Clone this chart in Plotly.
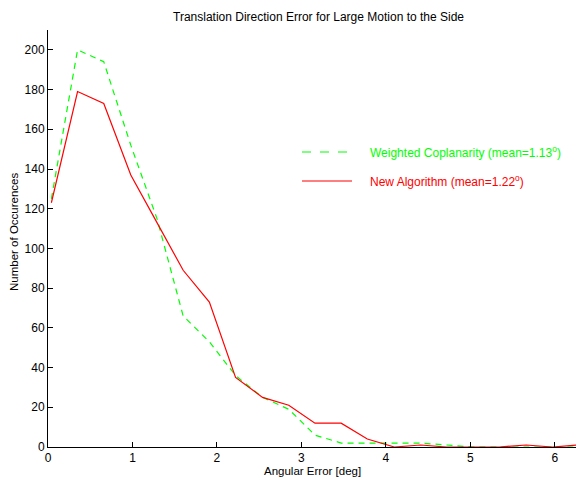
import plotly.graph_objects as go

angle_deg = [0.04, 0.35, 0.66, 0.98, 1.29, 1.60, 1.91, 2.22, 2.54, 2.85, 3.16,
             3.47, 3.78, 4.10, 4.41, 4.72, 5.03, 5.34, 5.66, 5.97, 6.28]
weighted_coplanarity = [125, 200, 194, 152, 115, 66, 53, 36, 25, 19, 6,
                        2, 2, 2, 2, 1, 0, 0, 0, 0, 0]
new_algorithm = [123, 179, 173, 137, 113, 89, 73, 35, 25, 21, 12,
                 12, 4, 0, 1, 0, 0, 0, 1, 0, 1]
x_ticks = [0, 1, 2, 3, 4, 5, 6]
y_ticks = [0, 20, 40, 60, 80, 100, 120, 140, 160, 180, 200]
legend_labels = ["Weighted Coplanarity (mean=1.13<sup>o</sup>)",
                 "New Algorithm (mean=1.22<sup>o</sup>)"]
title_text = "Translation Direction Error for Large Motion to the Side"

FONT = "Liberation Sans, Arial, sans-serif"
GREEN = "#00ff00"
RED = "#ff0000"

fig = go.Figure()
fig.add_trace(go.Scatter(x=angle_deg, y=weighted_coplanarity, mode="lines",
                         line=dict(color=GREEN, width=1.2, dash="6px,5px"),
                         name=legend_labels[0], showlegend=False))
fig.add_trace(go.Scatter(x=angle_deg, y=new_algorithm, mode="lines",
                         line=dict(color=RED, width=1.2),
                         name=legend_labels[1], showlegend=False))

W, H = 576, 481
L, R, T, B = 48, 0, 30, 34
pw, ph = W - L - R, H - T - B

def px(x):
    return (x - L) / pw

def py(y):
    return (H - B - y) / ph

# legend drawn manually
for i, (col, dash) in enumerate([(GREEN, "dash"), (RED, "solid")]):
    yy = [152, 181][i]
    fig.add_shape(type="line", xref="paper", yref="paper",
                  x0=px(302), x1=px(352), y0=py(yy), y1=py(yy),
                  line=dict(color=col, width=1.2, dash=dash))
    fig.add_annotation(xref="paper", yref="paper", x=px(368), y=py(yy),
                       text=legend_labels[i], showarrow=False,
                       xanchor="left", yanchor="middle",
                       font=dict(family=FONT, size=12, color=col))

fig.add_annotation(xref="paper", yref="paper", x=px(318), y=py(17),
                   text=title_text, showarrow=False, xanchor="center",
                   yanchor="middle", font=dict(family=FONT, size=12, color="black"))
fig.add_annotation(xref="paper", yref="paper", x=px(312), y=py(471),
                   text="Angular Error [deg]", showarrow=False, xanchor="center",
                   yanchor="middle", font=dict(family=FONT, size=11.5, color="black"))
fig.add_annotation(xref="paper", yref="paper", x=px(14), y=py(232),
                   text="Number of Occurences", showarrow=False, textangle=-90,
                   xanchor="center", yanchor="middle",
                   font=dict(family=FONT, size=11.5, color="black"))

fig.update_layout(
    width=W, height=H,
    margin=dict(l=L, r=R, t=T, b=B, pad=0),
    paper_bgcolor="white", plot_bgcolor="white",
    showlegend=False,
    font=dict(family=FONT, size=12, color="black"),
)
fig.update_xaxes(range=[0, 6.25], tickvals=x_ticks, ticks="inside", ticklen=5,
                 tickcolor="black", showline=True, linecolor="black", linewidth=1,
                 showgrid=False, zeroline=False, tickfont=dict(size=12))
fig.update_yaxes(range=[0, 210], tickvals=y_ticks, ticks="inside", ticklen=5,
                 tickcolor="black", showline=True, linecolor="black", linewidth=1,
                 showgrid=False, zeroline=False, tickfont=dict(size=12))

fig.write_html("out.html")
